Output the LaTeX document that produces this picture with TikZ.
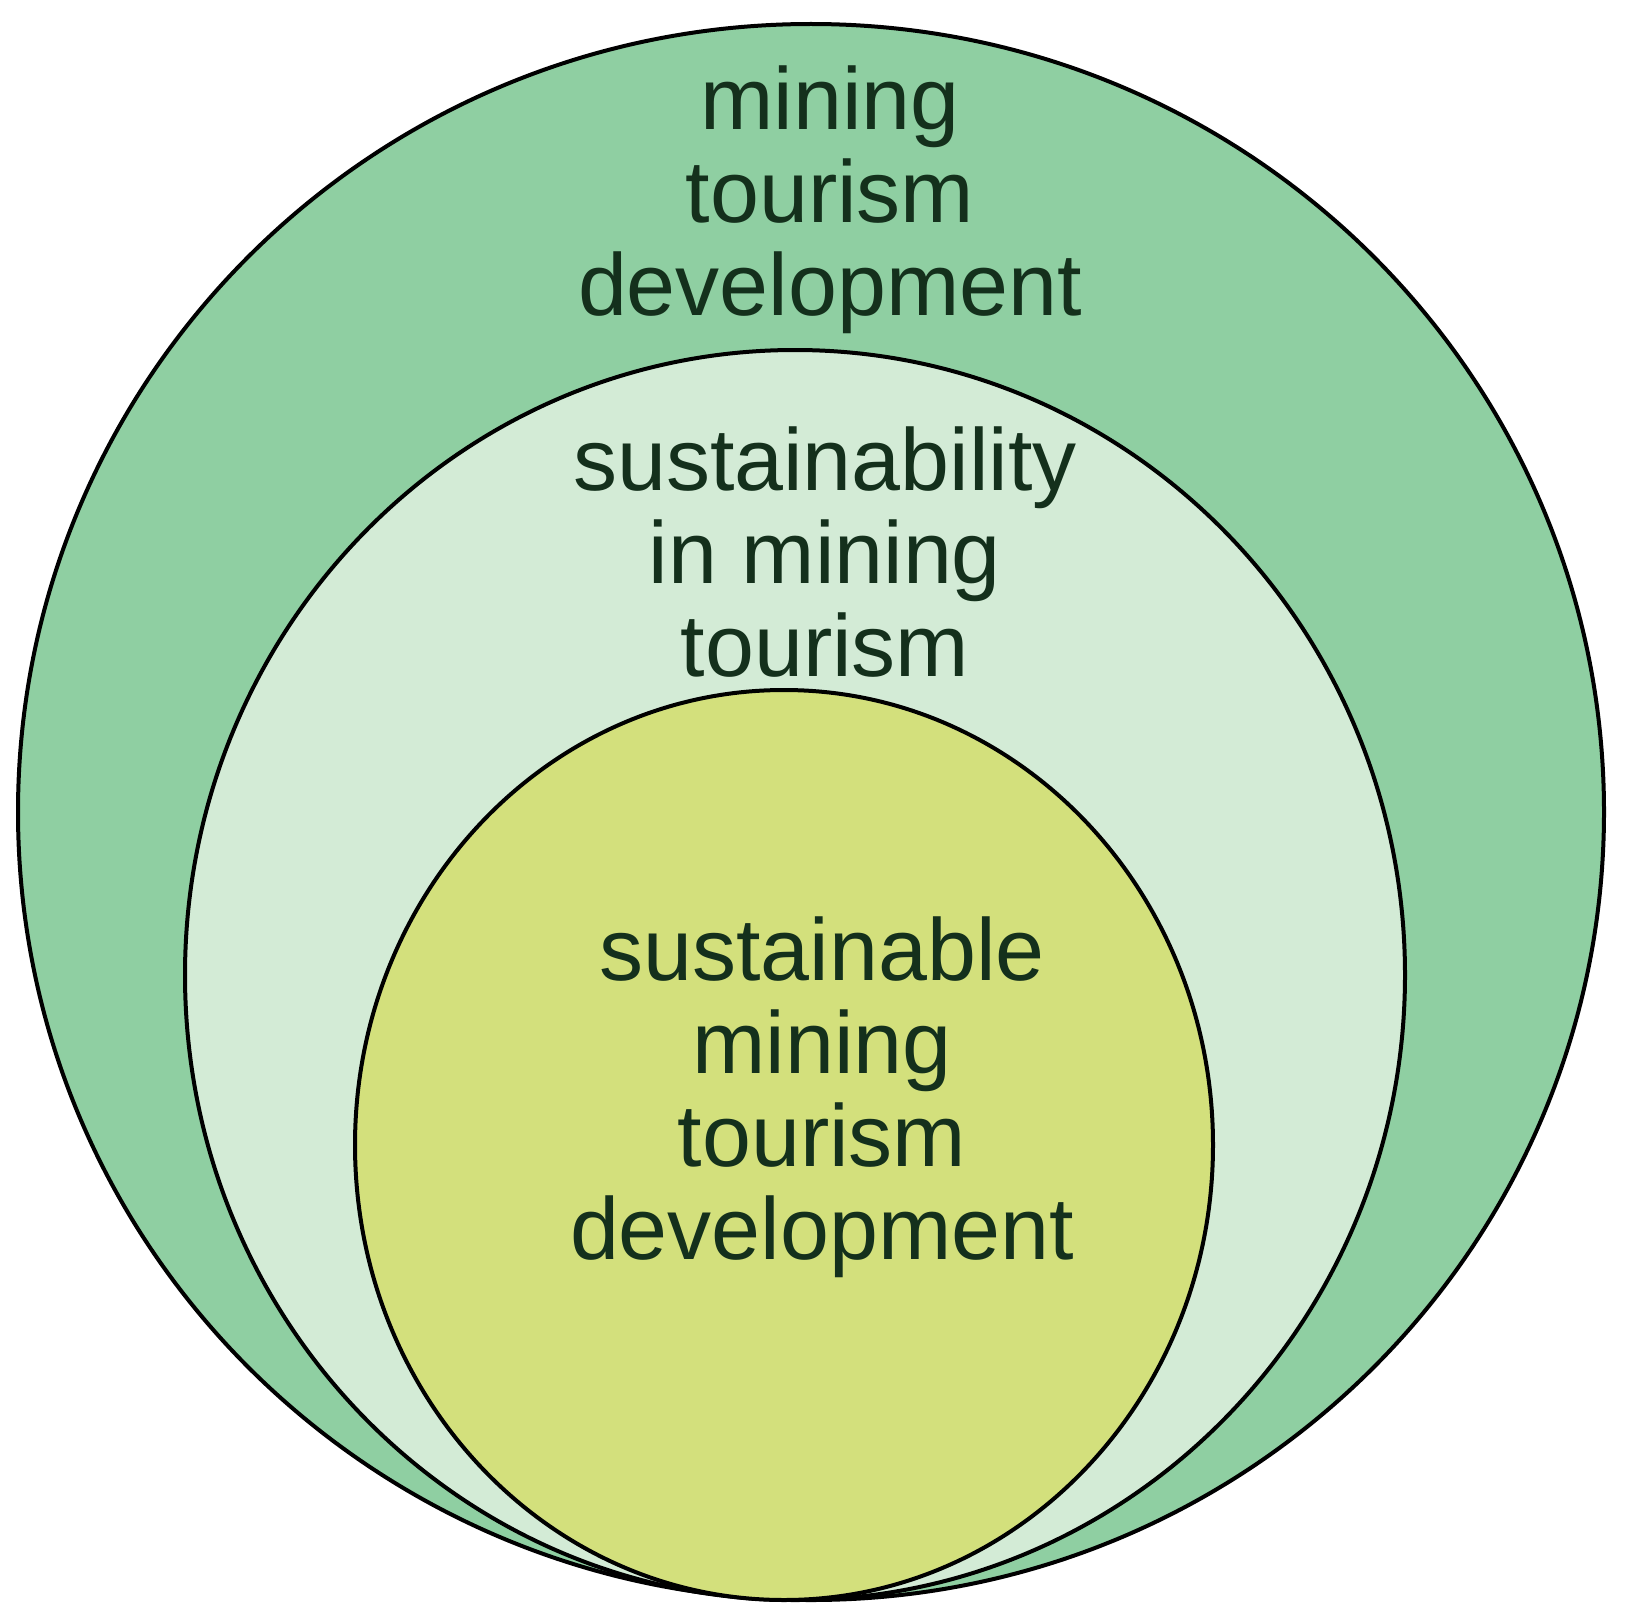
\documentclass[tikz,border=0pt]{standalone}
\usepackage{fontspec}
\setmainfont{Liberation Sans}
\definecolor{outerc}{HTML}{8FCFA2}
\definecolor{midc}{HTML}{D3EBD6}
\definecolor{innerc}{HTML}{D3E07C}
\definecolor{txt}{HTML}{14301C}
\begin{document}
\begin{tikzpicture}[x=1pt,y=-1pt,
  ring/.style={draw=black,line width=4pt},
  lbl/.style={align=center,text=txt,font=\fontsize{88}{93}\selectfont,inner sep=0pt}]
\useasboundingbox (0,0) rectangle (1627,1621);
\draw[ring,fill=outerc] (811,812) ellipse [x radius=793,y radius=788];
\draw[ring,fill=midc] (795,975) ellipse [x radius=610,y radius=625];
\draw[ring,fill=innerc] (784,1145) ellipse [x radius=429,y radius=455];
\node[lbl] (t1) at (830,200) {mining\\tourism\\development};
\node[lbl] (t2) at (825,552) {sustainability\\in mining\\tourism};
\node[lbl] (t3) at (822,1097) {sustainable\\mining\\tourism\\development};
\end{tikzpicture}
\end{document}
